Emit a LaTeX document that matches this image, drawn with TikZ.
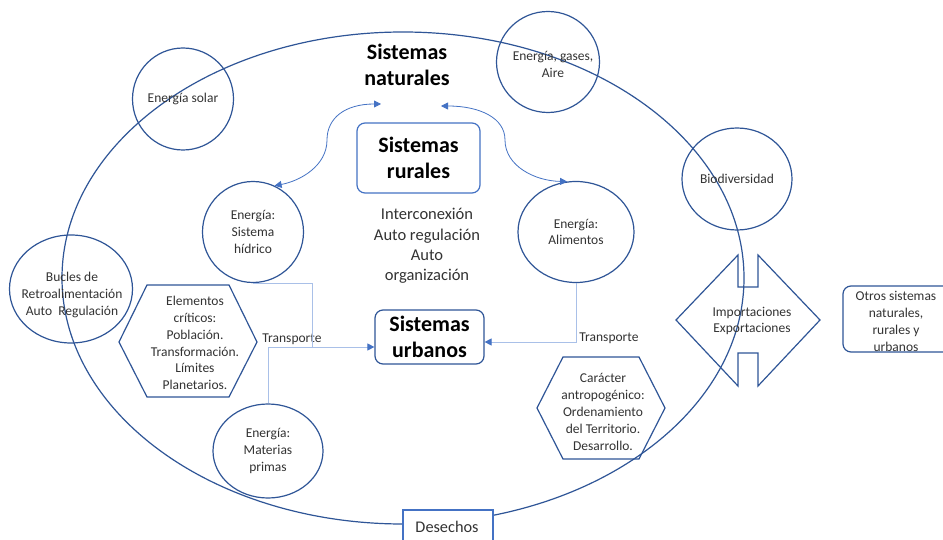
\documentclass[tikz,border=0pt]{standalone}
\usepackage{fontspec}
\setmainfont{Carlito}
\usetikzlibrary{arrows.meta,shapes.geometric}
\definecolor{dblue}{HTML}{2F5597}
\definecolor{mblue}{HTML}{4472C4}
\definecolor{lblue}{HTML}{A9C0E8}
\definecolor{txt}{HTML}{333333}
\newcommand\tsz{\fontsize{13.5}{16.8}\selectfont}
\newcommand\bsz{\fontsize{22}{26.5}\selectfont\bfseries}
\begin{document}
\begin{tikzpicture}[x=1pt,y=-1pt,
  bub/.style={draw=dblue, line width=1.2pt, ellipse, inner sep=0pt, align=center, text=txt, font=\tsz},
  lbl/.style={align=center, text=txt, font=\tsz, inner sep=0pt},
  shp/.style={draw=dblue, line width=1.2pt},
  conn/.style={draw=mblue, line width=0.8pt, {Triangle[length=7pt,width=7pt]}-{Triangle[length=7pt,width=7pt]}},
  tline/.style={draw=lblue, line width=1pt},
  tip/.style={-{Triangle[length=7pt,width=7pt,color=mblue]}}
]
\useasboundingbox (0,0) rectangle (943,540);
\clip (0,0) rectangle (943,540);
\fill[white] (0,0) rectangle (943,540);

% big ellipse
\node[draw=dblue, line width=1.2pt, ellipse, minimum width=682pt, minimum height=492pt, inner sep=0pt] (eco) at (403,278) {};

% titles and boxes
\node[font=\bsz, align=center, inner sep=0pt] (nat) at (407,65) {Sistemas\\naturales};
\node[draw=mblue, line width=1.2pt, rounded corners=8pt, minimum width=123pt, minimum height=70pt, font=\bsz, align=center, inner sep=0pt] (rur) at (418.5,158) {Sistemas\\rurales};
\node[draw=dblue, line width=1.2pt, rounded corners=8pt, minimum width=109pt, minimum height=54pt, font=\bsz, align=center, inner sep=0pt] (urb) at (429.5,337) {Sistemas\\urbanos};
\node[lbl, font=\fontsize{16.5}{20.2}\selectfont] (inter) at (427,246) {Interconexión\\Auto regulación\\Auto\\organización};

% circles
\node[bub, minimum width=101pt, minimum height=102pt] (sol) at (183,99) {Energía solar};
\node[bub, minimum width=101pt, minimum height=101pt] (hid) at (253,232) {Energía:\\Sistema\\hídrico};
\node[bub, minimum width=123pt, minimum height=108pt] (buc) at (71,289) {};
\node[lbl] (buct) at (72,295) {Bucles de\\Retroalimentación\\Auto\ \ Regulación};
\node[bub, minimum width=110pt, minimum height=94pt] (mat) at (268,451) {Energía:\\Materias\\primas};
\node[bub, minimum width=116pt, minimum height=101pt] (ali) at (576,232) {Energía:\\Alimentos};
\node[bub, minimum width=103pt, minimum height=101pt] (gas) at (548,62) {};
\node[lbl] (gast) at (553,64.5) {Energía, gases,\\Aire};
\node[bub, minimum width=110pt, minimum height=102pt] (bio) at (737,179) {Biodiversidad};

% hexagons
\draw[shp] (119,342) -- (147,285) -- (229,285) -- (257,342) -- (229,397) -- (147,397) -- cycle;
\node[lbl] (elem) at (195,343) {Elementos\\críticos:\\Población.\\Transformación.\\Límites\\Planetarios.};
\draw[shp] (537,408) -- (563,357) -- (639,357) -- (665,408) -- (639,459) -- (563,459) -- cycle;
\node[lbl] (car) at (603,412) {Carácter\\antropogénico:\\Ordenamiento\\del Territorio.\\Desarrollo.};

% double arrow
\draw[shp] (676,320) -- (738,255) -- (738,287) -- (758,287) -- (758,255) -- (820,320) -- (758,386) -- (758,353) -- (738,353) -- (738,386) -- cycle;
\node[lbl] (imp) at (752,321) {Importaciones\\Exportaciones};

% other systems
\draw[shp, rounded corners=8pt] (843,286) rectangle (960,352);
\node[lbl] (otr) at (896,321.5) {Otros sistemas\\naturales,\\rurales y\\urbanos};

% waste
\draw[draw=mblue, line width=1.1pt, fill=white] (403,510) rectangle (493,560);
\node[lbl, font=\fontsize{16.3}{19}\selectfont] (des) at (447,527) {Desechos};

% transport connectors
\node[lbl] (trL) at (292,339) {Transporte};
\node[lbl] (trR) at (609,338) {Transporte};
\coordinate (jL) at (312,347);
\draw[tline] (hid.south) -| (jL);
\draw[tline, tip] (mat.north) |- ([yshift=-10pt]urb.west);
\draw[tline, tip] (ali.south) |- ([yshift=-5pt]urb.east);

% curved arrows
\coordinate (natL) at (381,104);
\coordinate (natR) at (441,106);
\draw[conn] (natL) .. controls (345,104) and (327,118) .. (327,140) .. controls (327,166) and (300,181) .. (hid.65);
\draw[conn] (natR) .. controls (480,106) and (505,118) .. (505,140) .. controls (505,166) and (535,181) .. (ali.100);
\end{tikzpicture}
\end{document}
